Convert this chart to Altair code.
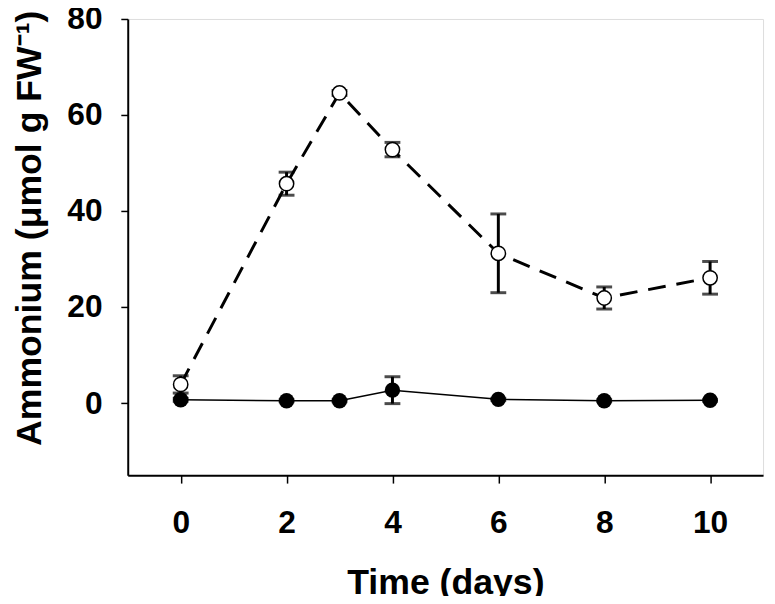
import altair as alt
import pandas as pd

days = [0, 2, 3, 4, 6, 8, 10]
open_mean = [3.9, 45.7, 64.6, 52.8, 31.2, 21.9, 26.1]
open_err = [1.8, 2.4, 0.5, 1.5, 8.2, 2.3, 3.4]
filled_mean = [0.7, 0.5, 0.5, 2.7, 0.8, 0.5, 0.6]
filled_err = [0.3, 0.2, 0.2, 2.8, 0.2, 0.2, 0.2]

FONT = "Liberation Sans"

rows = []
for d, m, e in zip(days, open_mean, open_err):
    rows.append({"day": d, "val": m, "lo": m - e, "hi": m + e, "series": "open"})
for d, m, e in zip(days, filled_mean, filled_err):
    rows.append({"day": d, "val": m, "lo": m - e, "hi": m + e, "series": "filled"})
df = pd.DataFrame(rows)

xs = alt.Scale(domain=[-1, 11], nice=False, zero=False)
ys = alt.Scale(domain=[-15, 80], nice=False, zero=False)

xaxis = alt.Axis(values=[0, 2, 4, 6, 8, 10], format="d", title="Time (days)", grid=False,
                 tickSize=8, tickWidth=1.5, tickColor="black",
                 domainColor="black", domainWidth=2,
                 labelFont=FONT, labelFontSize=32, labelFontWeight="bold", labelColor="black",
                 labelPadding=25,
                 titleFont=FONT, titleFontSize=36, titleFontWeight="bold", titleColor="black",
                 titleBaseline="alphabetic", titleY=120)
yaxis = alt.Axis(values=[0, 20, 40, 60, 80], format="d",
                 title="Ammonium (\u03bcmol g FW\u207b\u00b9)", grid=False,
                 tickSize=7, tickWidth=1.5, tickColor="black",
                 domainColor="black", domainWidth=2,
                 labelFont=FONT, labelFontSize=32, labelFontWeight="bold", labelColor="black",
                 labelPadding=19,
                 titleFont=FONT, titleFontSize=36, titleFontWeight="bold", titleColor="black",
                 titleAngle=-90, titleAlign="center", titleBaseline="alphabetic",
                 titleX=-88, titleY=211)

base = alt.Chart(df)

open_df = base.transform_filter(alt.datum.series == "open")
filled_df = base.transform_filter(alt.datum.series == "filled")

open_line = open_df.mark_line(color="black", strokeWidth=3, strokeDash=[18, 11]).encode(
    x=alt.X("day:Q", scale=xs, axis=xaxis), y=alt.Y("val:Q", scale=ys, axis=yaxis))
filled_line = filled_df.mark_line(color="black", strokeWidth=1.5).encode(
    x=alt.X("day:Q", scale=xs), y=alt.Y("val:Q", scale=ys))

bars = base.mark_rule(color="black", strokeWidth=3).encode(
    x=alt.X("day:Q", scale=xs), y=alt.Y("lo:Q", scale=ys), y2="hi:Q")
cap_lo = base.mark_tick(color="black", orient="horizontal", size=16, thickness=3).encode(
    x=alt.X("day:Q", scale=xs), y=alt.Y("lo:Q", scale=ys))
cap_hi = base.mark_tick(color="black", orient="horizontal", size=16, thickness=3).encode(
    x=alt.X("day:Q", scale=xs), y=alt.Y("hi:Q", scale=ys))

open_pts = open_df.mark_point(shape="circle", filled=True, fill="white", stroke="black",
                              strokeWidth=1.5, size=210, opacity=1).encode(
    x=alt.X("day:Q", scale=xs), y=alt.Y("val:Q", scale=ys))
filled_pts = filled_df.mark_point(shape="circle", filled=True, color="black",
                                  size=240, opacity=1).encode(
    x=alt.X("day:Q", scale=xs), y=alt.Y("val:Q", scale=ys))

chart = alt.layer(open_line, filled_line, bars, cap_lo, cap_hi, open_pts, filled_pts).properties(
    width=642, height=461,
    padding={"left": 121, "top": 8, "right": 4, "bottom": 119},
    autosize=alt.AutoSizeParams(type="none"),
).configure_view(stroke="black", strokeWidth=1.5).configure(background="white")

chart.save("out.html", embed_options={"renderer": "svg", "actions": False})
